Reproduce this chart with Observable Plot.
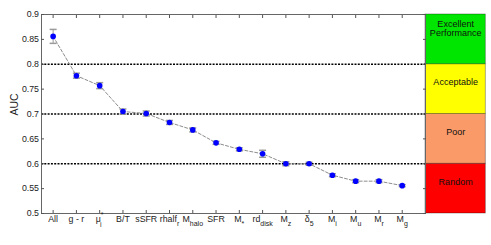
<!DOCTYPE html>
<html><head><meta charset="utf-8">
<script src="https://cdn.jsdelivr.net/npm/d3@7"></script>
<script src="https://cdn.jsdelivr.net/npm/@observablehq/plot@0.6"></script>
<style>body{margin:0;background:#fff} svg{display:block}</style>
</head><body><div id="chart"></div>
<script>
const categories = ["All","g-r","mu_i","B/T","sSFR","rhalf_r","M_halo","SFR","M_*","rd_disk","M_z","delta_5","M_i","M_u","M_r","M_g"];
const labelMain = ["All","g - r","μ","B/T","sSFR","rhalf","M","SFR","M","rd","M","δ","M","M","M","M"];
const labelSub  = ["","","i","","","r","halo","","*","disk","z","5","i","u","r","g"];
const labelSup  = ["","","*","","","","","","","","","","","","",""];
const auc    = [0.856,0.777,0.757,0.705,0.701,0.683,0.668,0.642,0.629,0.620,0.600,0.600,0.577,0.565,0.565,0.556];
const aucErr = [0.014,0.005,0.006,0.005,0.005,0.004,0.004,0.003,0.003,0.007,0.004,0.003,0.003,0.003,0.003,0.002];
const yTicks = [0.5,0.55,0.6,0.65,0.7,0.75,0.8,0.85,0.9];
const thresholds = [0.6,0.7,0.8];
const bandNames  = ["Random","Poor","Acceptable","Excellent\nPerformance"];
const bandLo     = [0.5,0.6,0.7,0.8];
const bandHi     = [0.6,0.7,0.8,0.9];
const bandColors = ["#ff0000","#fa9a68","#ffff00","#00e600"];

const pos = categories.map((_, i) => i + 1);
const xMax = categories.length + 1;
const panelSpan = 2.59;
const data = categories.map((c, i) => ({i: i + 1, c, v: auc[i], e: aucErr[i]}));
const bands = bandNames.map((n, i) => ({n, lo: bandLo[i], hi: bandHi[i], color: bandColors[i]}));
const capSymbol = {draw(ctx, size) { const r = Math.sqrt(size / Math.PI); ctx.moveTo(-r, 0); ctx.lineTo(r, 0); }};
const sans = "'Liberation Sans', Arial, sans-serif";

const chart = Plot.plot({
  width: 491, height: 245,
  marginLeft: 41, marginRight: 66, marginTop: 14, marginBottom: 32,
  style: {fontFamily: sans, fontSize: "8.8px", color: "#222", background: "#fff"},
  x: {domain: [0.5, xMax], axis: null},
  y: {domain: [0.5, 0.9], axis: null},
  marks: [
    Plot.rect(bands, {x1: xMax, x2: xMax + panelSpan, y1: "lo", y2: "hi", fill: "color", stroke: "#000", strokeOpacity: 0.4, strokeWidth: 0.8}),
    Plot.text(bands, {x: xMax + panelSpan / 2, y: "hi", text: "n", lineAnchor: "bottom", dy: 21, fill: "#111", fontSize: 9}),
    Plot.ruleY(thresholds, {stroke: "#000", strokeWidth: 1.5, strokeDasharray: "2,1.3"}),
    Plot.frame({stroke: "#666"}),
    Plot.axisY({anchor: "left", ticks: yTicks, tickSize: -3, tickPadding: 5.5, tickFormat: d => String(d), label: null, stroke: "#555"}),
    Plot.axisY({anchor: "right", ticks: yTicks, tickSize: -3, tickFormat: () => "", label: null, stroke: "#555"}),
    Plot.axisX({anchor: "bottom", ticks: pos, tickSize: -3, tickPadding: 5.5, tickFormat: d => labelMain[d - 1], label: null, stroke: "#555"}),
    Plot.axisX({anchor: "top", ticks: pos, tickSize: -3, tickFormat: () => "", label: null, stroke: "#555"}),
    Plot.text(["AUC"], {text: d => d, frameAnchor: "left", rotate: -90, dx: -27, dy: 1.5, fontSize: 10.5, fill: "#222"}),
    Plot.line(data, {x: "i", y: "v", stroke: "#8c8c8c", strokeWidth: 1, strokeDasharray: "3,2"}),
    Plot.ruleX(data, {x: "i", y1: d => d.v - d.e, y2: d => d.v + d.e, stroke: "#9a9a9a"}),
    Plot.dot(data, {x: "i", y: d => d.v - d.e, symbol: capSymbol, r: 3.5, stroke: "#9a9a9a"}),
    Plot.dot(data, {x: "i", y: d => d.v + d.e, symbol: capSymbol, r: 3.5, stroke: "#9a9a9a"}),
    Plot.dot(data, {x: "i", y: "v", r: 2.8, fill: "#0000ff"})
  ]
});
document.getElementById("chart").appendChild(chart);

const ns = "http://www.w3.org/2000/svg";
chart.querySelectorAll('g[aria-label="x-axis tick label"]').forEach(g => {
  const texts = g.querySelectorAll("text");
  texts.forEach((t, k) => {
    if (!t.textContent) return;
    t.textContent = "";
    const add = (s, attrs) => {
      const ts = document.createElementNS(ns, "tspan");
      for (const [a, v] of Object.entries(attrs)) ts.setAttribute(a, v);
      ts.textContent = s;
      t.appendChild(ts);
    };
    add(labelMain[k], {});
    if (labelSup[k]) {
      add(labelSup[k], {dy: "-5", "font-size": "7"});
      if (labelSub[k]) add(labelSub[k], {dx: "-3.5", dy: "9.5", "font-size": "7"});
    } else if (labelSub[k]) {
      add(labelSub[k], {dy: "4", "font-size": "7"});
    }
  });
});
</script>
</body></html>
